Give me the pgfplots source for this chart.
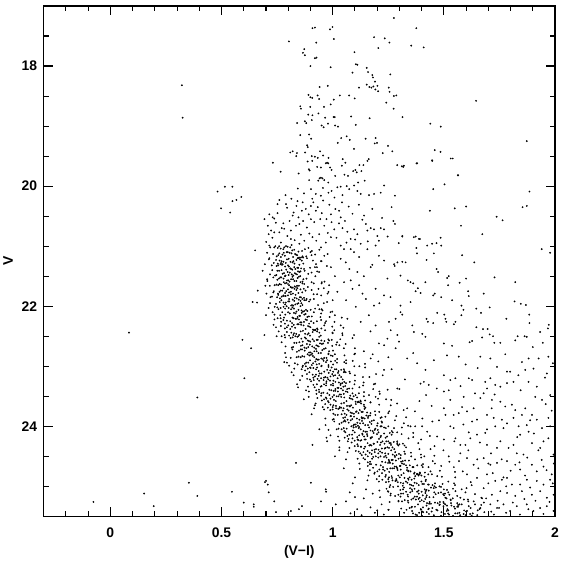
\documentclass[border=0pt]{standalone}
\usepackage{fontspec}
\setmainfont{Liberation Sans}
\usepackage{pgfplots}
\pgfplotsset{compat=1.18}
\pgfplotsset{pts/.style={only marks, mark=*, mark size=0.7pt, mark options={draw=none, fill=black!82}}}
\begin{document}
\begin{tikzpicture}
\begin{axis}[
  width=513bp, height=512bp, scale only axis,
  xmin=-0.3, xmax=2, ymin=17, ymax=25.5, y dir=reverse,
  xtick={0,0.5,1,1.5,2}, xticklabels={0,0.5,1,1.5,2},
  ytick={18,20,22,24}, yticklabels={18,20,22,24},
  minor xtick={-0.2,-0.1,0.1,0.2,0.3,0.4,0.6,0.7,0.8,0.9,1.1,1.2,1.3,1.4,1.6,1.7,1.8,1.9},
  minor ytick={17.5,18.5,19,19.5,20.5,21,21.5,22.5,23,23.5,24.5,25},
  tick align=inside, tick pos=both,
  major tick length=9bp, minor tick length=5bp,
  every tick/.style={black, line width=1.1pt},
  axis line style={line width=1.3pt},
  tick label style={font=\fontsize{14}{16}\selectfont\bfseries},
  xticklabel style={yshift=-8bp},
  yticklabel style={xshift=-3bp},
  label style={font=\fontsize{14}{16}\selectfont\bfseries},
  xlabel={(V−I)}, ylabel={V},
  xlabel style={yshift=-1bp},
  ylabel style={yshift=2bp},
]
% isolated points and upper scattered stars
\addplot[pts] table {
x y
0.322 18.32
0.325 18.86
0.482 20.09
0.515 20.01
0.549 20.01
0.549 20.25
0.567 20.23
0.589 20.18
0.498 20.37
0.539 20.44
0.084 22.44
0.594 22.56
0.391 23.52
0.353 24.94
0.152 25.12
0.391 25.16
0.547 25.09
-0.076 25.26
0.195 25.33
0.695 24.93
0.712 25.10
0.600 25.27
0.645 25.34
0.745 25.43
0.800 25.46
0.848 25.38
0.970 25.09
1.077 25.10
0.603 23.20
0.655 24.44
0.700 24.91
0.708 24.97
0.782 22.93
0.794 22.94
0.909 24.31
0.835 24.61
0.737 25.25
0.645 25.30
0.902 24.94
0.862 25.33
0.812 25.41
0.947 25.25
0.969 25.05
1.014 25.30
0.633 22.70
0.651 21.07
0.685 21.41
0.663 21.74
0.640 21.93
0.660 21.94
0.697 21.66
0.693 22.48
1.275 17.20
1.376 17.37
0.909 17.37
0.920 17.36
0.988 17.39
0.999 17.35
1.005 17.55
0.803 17.59
0.926 17.61
1.186 17.52
1.234 17.54
1.255 17.61
1.205 17.70
1.353 17.66
1.409 17.69
0.872 17.72
0.866 17.78
0.875 17.82
1.098 17.77
0.920 17.87
0.927 17.86
0.900 18.00
0.991 18.02
1.104 17.97
1.111 17.98
1.153 18.03
1.159 18.10
1.089 18.11
1.178 18.15
1.181 18.19
1.190 18.26
1.201 18.33
1.183 18.34
1.192 18.39
1.204 18.42
1.174 18.36
1.153 18.31
1.165 18.35
1.259 18.14
1.118 18.36
0.941 18.35
0.978 18.33
1.252 18.36
1.256 18.43
1.032 18.49
1.074 18.49
1.099 18.54
0.891 18.48
0.900 18.52
0.908 18.53
0.932 18.49
0.939 18.55
1.005 18.56
1.275 18.50
1.286 18.49
1.241 18.61
0.991 18.64
0.854 18.67
0.857 18.71
0.899 18.68
0.961 18.68
1.274 18.71
0.890 18.81
0.909 18.82
0.936 18.79
0.966 18.86
1.004 18.85
1.009 18.85
1.083 18.84
1.166 18.87
1.314 18.85
0.840 18.95
0.875 18.92
0.881 18.95
0.906 18.90
0.950 18.99
0.959 19.02
0.979 18.96
1.011 18.99
1.024 19.01
1.104 18.98
1.439 18.96
1.486 19.01
0.854 19.15
0.894 19.14
0.903 19.21
1.038 19.20
1.023 19.28
1.077 19.23
1.063 19.17
1.148 19.21
1.193 19.20
1.189 19.29
1.199 19.28
1.249 19.33
1.268 19.42
1.225 19.45
0.885 19.32
0.888 19.35
0.820 19.42
0.809 19.44
0.839 19.45
0.836 19.50
0.876 19.44
0.906 19.50
0.920 19.51
0.933 19.53
0.957 19.49
0.981 19.53
0.943 19.42
1.096 19.38
1.459 19.40
1.485 19.43
1.531 19.54
1.540 19.54
1.645 18.58
1.873 19.25
0.731 19.61
0.766 19.76
0.887 19.59
0.908 19.58
0.893 19.72
0.896 19.74
0.930 19.68
0.947 19.69
0.969 19.62
0.975 19.61
0.988 19.69
0.995 19.73
0.980 19.62
1.045 19.55
1.057 19.61
1.041 19.66
1.053 19.81
1.069 19.83
1.092 19.75
1.102 19.73
1.108 19.77
1.120 19.65
1.129 19.75
1.138 19.65
1.156 19.58
1.162 19.55
1.290 19.65
1.311 19.67
1.317 19.68
1.377 19.62
1.448 19.58
1.564 19.82
0.847 19.79
0.941 19.87
0.947 19.86
0.954 19.87
1.011 19.83
};
% V 19.9 - 21 spread region
\addplot[pts] table {
x y
0.894 19.90
0.935 19.91
0.962 19.90
0.980 19.94
1.021 20.02
1.036 20.01
1.063 20.00
1.096 19.99
1.114 19.94
1.144 19.91
1.163 20.15
1.186 20.13
1.216 20.11
1.231 19.99
1.280 20.16
0.902 20.05
0.924 20.13
0.947 20.16
0.981 20.11
0.995 20.08
1.044 20.15
1.074 20.05
1.111 20.08
1.126 20.13
0.715 20.47
0.730 20.52
0.737 20.54
0.708 20.66
0.723 20.74
0.737 20.77
0.760 20.77
0.782 20.71
0.812 20.74
0.835 20.66
0.850 20.63
0.820 20.49
0.824 20.44
0.752 20.30
0.790 20.30
0.842 20.25
0.865 20.27
0.879 20.38
0.902 20.33
0.924 20.41
0.902 20.55
0.917 20.60
0.944 20.55
0.962 20.66
0.939 20.80
0.909 20.85
0.872 20.91
0.850 20.96
0.767 20.94
0.715 20.99
0.737 21.02
0.812 20.88
0.992 20.47
0.995 20.60
1.007 20.72
1.029 20.41
1.036 20.52
1.044 20.70
1.066 20.76
1.081 20.88
1.036 20.99
1.051 21.05
1.096 20.72
1.111 20.80
1.141 20.49
1.149 20.63
1.156 20.74
1.171 20.70
1.186 20.72
1.201 20.83
1.208 20.91
1.216 20.70
1.231 20.72
1.193 20.99
1.126 20.96
1.081 21.05
0.992 20.85
0.969 20.94
0.947 21.02
0.782 21.02
1.273 20.58
1.280 20.63
1.313 20.83
1.365 20.85
1.388 20.88
1.425 20.99
0.760 20.23
0.795 20.36
0.806 20.58
0.778 20.62
0.752 20.45
0.846 20.52
0.867 20.58
0.884 20.69
0.857 20.81
0.829 20.90
0.796 20.83
0.771 20.70
0.744 20.61
0.729 20.86
0.892 20.47
0.913 20.27
0.933 20.35
0.951 20.45
0.972 20.55
0.985 20.31
0.957 20.24
1.012 20.38
1.028 20.62
1.055 20.58
1.072 20.34
1.089 20.46
1.118 20.31
1.133 20.56
1.101 20.89
1.062 20.94
1.017 20.86
0.978 20.78
0.926 20.91
0.895 20.79
0.861 20.41
0.837 20.33
0.814 20.21
0.908 20.21
0.871 20.12
0.843 20.04
0.956 20.03
1.008 20.19
1.042 20.27
1.178 20.38
1.158 20.92
1.247 20.84
1.222 20.53
1.265 20.35
1.297 20.95
0.788 20.15
0.815 20.98
0.759 21.00
0.712 20.80
0.693 20.55
0.701 20.93
};
% field stars to the right of the sequence
\addplot[pts] table {
x y
1.320 19.66
1.380 19.62
1.447 19.57
1.563 19.82
1.452 20.05
1.503 19.97
1.437 20.41
1.549 20.37
1.600 20.34
1.885 20.09
1.854 20.35
1.873 20.33
1.737 20.51
1.764 20.57
1.577 20.66
1.673 20.80
1.313 20.84
1.373 20.84
1.392 20.88
1.485 20.86
1.447 20.96
1.467 20.95
1.488 20.99
1.376 21.03
1.940 21.05
1.978 21.11
1.455 21.12
1.379 21.12
1.582 21.15
1.422 21.23
1.313 21.26
1.328 21.27
1.637 21.27
1.467 21.38
1.474 21.43
1.522 21.50
1.515 21.53
1.600 21.54
1.728 21.52
1.821 21.60
1.305 21.49
1.338 21.57
1.350 21.60
1.362 21.62
1.383 21.70
1.373 21.75
1.395 21.78
1.417 21.60
1.452 21.82
1.459 21.79
1.488 21.85
1.519 21.65
1.537 21.90
1.571 21.61
1.579 21.99
1.588 22.06
1.609 21.75
1.612 21.83
1.646 22.04
1.667 22.11
1.679 21.79
1.706 22.02
1.350 21.93
1.305 21.99
1.313 22.14
1.358 22.32
1.365 22.43
1.403 22.46
1.417 22.51
1.422 22.21
1.428 22.26
1.452 22.28
1.470 22.11
1.502 22.14
1.507 22.21
1.511 22.26
1.545 22.30
1.552 22.26
1.500 22.62
1.537 22.66
1.579 22.15
1.616 22.60
1.627 22.58
1.646 22.35
1.676 22.38
1.697 22.38
1.672 22.52
1.706 22.47
1.721 22.50
1.727 22.61
1.754 22.61
1.781 22.21
1.818 21.92
1.821 22.57
1.832 22.50
1.846 21.96
1.869 21.98
1.884 22.14
1.863 22.50
1.873 22.51
1.900 22.68
1.933 22.43
1.945 22.61
1.968 22.37
1.972 22.31
1.885 22.28
0.977 21.13
1.036 21.21
1.059 21.27
1.096 21.10
1.119 21.18
1.156 21.05
1.208 21.16
1.231 21.24
1.276 21.30
1.291 21.27
1.279 21.33
1.171 21.35
1.178 21.31
1.111 21.43
1.081 21.57
1.051 21.60
0.992 21.35
0.984 21.65
0.977 21.79
1.021 21.76
1.089 21.71
1.119 21.65
1.134 21.79
1.193 21.71
1.246 21.54
1.231 21.82
1.186 21.99
1.149 21.88
1.104 22.01
1.066 22.21
1.036 22.32
1.007 22.40
0.962 22.32
0.984 22.57
1.044 22.48
1.096 22.48
1.126 22.26
1.163 22.15
1.193 22.32
1.253 22.26
1.283 22.21
1.305 22.10
1.246 22.54
1.231 22.65
1.208 22.62
1.298 22.59
1.261 22.40
1.291 22.48
0.905 21.15
0.930 21.42
0.915 21.88
0.950 21.62
0.940 22.05
0.925 21.30
0.960 21.95
0.945 22.18
0.990 22.10
1.010 21.50
1.000 21.90
1.060 21.90
1.075 21.38
1.140 21.50
1.170 22.42
1.210 21.95
1.260 21.85
1.020 22.60
1.335 22.87
1.380 22.95
1.417 23.06
1.514 22.82
1.567 22.84
1.664 22.84
1.709 22.87
1.739 23.01
1.798 23.09
1.851 22.93
1.881 22.87
1.903 23.04
1.926 22.87
1.970 22.84
1.990 22.95
1.410 23.26
1.395 23.29
1.432 23.31
1.500 23.15
1.529 23.23
1.552 23.20
1.612 23.20
1.627 23.23
1.686 23.26
1.709 23.20
1.694 23.37
1.731 23.31
1.754 23.34
1.784 23.09
1.784 23.28
1.813 23.26
1.866 23.06
1.881 23.26
1.918 23.34
1.963 23.12
1.500 23.42
1.522 23.40
1.529 23.56
1.589 23.51
1.634 23.70
1.664 23.53
1.679 23.45
1.716 23.56
1.754 23.59
1.776 23.67
1.806 23.64
1.821 23.73
1.851 23.81
1.866 23.70
1.896 23.81
1.911 23.51
1.941 23.56
1.978 23.48
1.500 23.70
1.507 23.81
1.544 23.81
1.567 23.78
1.604 23.75
1.529 24.00
1.544 24.03
1.627 23.92
1.649 23.89
1.694 23.81
1.724 23.86
1.731 24.00
1.761 23.89
1.784 23.95
1.813 23.86
1.836 24.00
1.843 24.14
1.873 23.98
1.881 24.09
1.918 23.89
1.941 24.03
1.970 23.86
1.978 24.00
1.320 23.95
1.350 24.00
1.402 24.00
1.425 24.09
1.470 24.17
1.500 24.22
1.552 24.20
1.574 24.31
1.597 24.31
1.619 24.20
1.649 24.14
1.686 24.11
1.694 24.31
1.739 24.36
1.754 24.25
1.791 24.36
1.813 24.31
1.828 24.45
1.858 24.47
1.896 24.28
1.933 24.36
1.948 24.25
1.970 24.20
1.993 24.47
1.574 24.45
1.604 24.53
1.634 24.64
1.679 24.53
1.709 24.64
1.739 24.61
1.784 24.58
1.821 24.64
1.843 24.72
1.896 24.64
1.918 24.75
1.948 24.67
1.985 24.80
1.604 24.80
1.649 24.86
1.694 24.80
1.731 24.91
1.761 24.89
1.784 24.86
1.806 24.97
1.843 24.97
1.873 24.89
1.918 24.91
1.948 24.97
1.978 24.89
1.679 25.03
1.716 25.14
1.754 25.08
1.784 25.11
1.821 25.16
1.851 25.08
1.896 25.14
1.933 25.08
1.963 25.19
1.993 25.14
1.709 25.30
1.739 25.36
1.768 25.30
1.798 25.41
1.828 25.33
1.873 25.30
1.903 25.41
1.933 25.36
1.963 25.33
1.993 25.41
1.634 25.25
1.664 25.36
1.604 25.41
1.574 25.19
1.552 25.08
1.362 22.78
1.455 22.90
1.598 22.97
1.652 23.03
1.776 22.80
1.835 23.15
1.955 23.19
1.468 23.37
1.575 23.33
1.640 23.45
1.728 23.47
1.845 23.40
1.958 23.63
1.390 23.58
1.445 23.66
1.478 23.90
1.588 23.97
1.694 24.05
1.768 24.03
1.905 24.12
1.985 23.74
1.385 24.28
1.440 24.38
1.522 24.50
1.610 24.40
1.662 24.27
1.712 24.45
1.760 24.55
1.875 24.52
1.940 24.56
1.545 24.68
1.585 24.75
1.655 24.70
1.720 24.78
1.800 24.74
1.865 24.82
1.962 24.73
1.470 24.83
1.520 24.92
1.625 24.98
1.700 24.95
1.780 25.00
1.888 25.02
1.990 24.95
1.505 25.12
1.590 25.22
1.640 25.13
1.690 25.20
1.742 25.24
1.810 25.27
1.862 25.21
1.912 25.24
1.975 25.26
1.560 25.34
1.618 25.46
1.682 25.43
1.725 25.47
1.780 25.44
1.842 25.47
1.880 25.38
1.948 25.46
1.580 25.05
1.532 25.28
1.460 24.62
1.412 24.50
1.498 24.40
1.568 24.58
1.830 24.18
1.888 23.90
1.715 23.70
1.582 23.68
1.612 24.10
1.547 24.25
1.650 24.55
1.700 24.62
1.768 24.85
1.840 24.60
1.925 24.40
1.995 24.62
1.370 23.75
1.420 23.48
1.265 23.05
1.300 23.38
1.325 23.22
1.250 22.85
1.205 22.92
1.180 22.80
1.140 22.75
1.225 23.15
1.185 23.30
1.290 23.62
1.240 23.55
1.330 23.85
1.290 24.10
1.362 24.18
1.405 24.68
1.440 24.75
1.520 25.40
1.660 25.38
1.283 22.70
1.291 23.37
1.335 23.70
1.403 23.87
1.448 23.92
1.276 24.03
1.193 23.51
1.231 23.06
1.171 22.87
1.100 22.70
1.060 22.95
1.120 23.00
1.165 23.18
1.210 23.42
1.250 23.78
1.220 23.92
1.080 25.45
1.110 25.38
1.060 25.25
1.130 25.48
1.170 25.35
1.190 25.44
1.230 25.47
1.250 25.39
1.100 25.18
1.180 25.12
1.260 25.15
1.600 25.42
1.620 25.36
1.650 25.48
1.580 25.30
1.610 25.25
1.560 25.16
1.640 25.30
1.680 25.27
1.570 25.44
1.520 25.10
1.480 25.00
1.550 24.98
};
% wings of the main sequence band
\addplot[pts] table {
x y
0.715 21.20
0.705 21.55
0.720 21.85
0.730 22.10
0.745 22.35
0.770 22.60
0.790 22.85
0.815 23.10
0.840 23.30
0.870 23.55
0.905 23.80
0.940 24.05
0.975 24.25
1.010 24.50
1.050 24.70
1.090 24.95
1.140 25.20
1.200 25.40
0.728 21.40
0.735 21.75
0.752 22.20
0.770 22.50
0.830 22.95
0.880 23.40
0.920 23.65
0.990 24.15
1.030 24.40
1.100 24.85
1.150 25.05
1.220 25.30
0.900 21.10
0.920 21.35
0.905 21.60
0.930 21.80
0.950 22.05
0.970 22.25
1.000 22.45
1.030 22.65
1.060 22.90
1.100 23.15
1.120 23.35
1.170 23.60
1.220 23.85
1.270 24.10
1.330 24.35
1.370 24.55
1.430 24.80
1.500 25.05
1.570 25.30
0.950 21.25
0.960 21.70
1.010 22.15
0.980 22.55
1.010 22.80
1.050 23.05
1.140 23.50
1.190 23.75
1.250 24.00
1.290 24.25
1.400 24.65
1.460 24.95
1.540 25.20
1.630 25.45
};
% halo around the sequence
\addplot[pts] table {
x y
0.719 21.02
0.875 21.05
0.906 21.08
0.742 21.00
0.940 21.06
0.891 21.03
0.881 21.17
0.705 21.11
0.921 21.14
0.867 21.19
0.732 21.13
0.962 21.16
0.911 21.24
0.735 21.28
0.884 21.20
0.947 21.25
0.713 21.22
0.868 21.29
0.726 21.32
0.929 21.35
0.871 21.38
0.695 21.30
0.898 21.36
0.974 21.33
0.718 21.47
0.874 21.41
0.905 21.44
0.741 21.49
0.939 21.43
0.890 21.46
0.882 21.54
0.706 21.58
0.922 21.50
0.868 21.55
0.733 21.52
0.963 21.59
0.915 21.62
0.739 21.65
0.888 21.68
0.951 21.60
0.717 21.66
0.872 21.63
0.733 21.77
0.936 21.71
0.878 21.74
0.702 21.79
0.905 21.73
0.981 21.76
0.727 21.84
0.883 21.88
0.914 21.80
0.750 21.85
0.948 21.82
0.899 21.89
0.894 21.92
0.718 21.95
0.934 21.98
0.880 21.90
0.745 21.96
0.975 21.93
0.954 22.07
0.739 22.01
0.921 22.04
0.998 22.09
0.712 22.03
0.901 22.06
0.738 22.14
0.986 22.18
0.915 22.10
0.700 22.15
0.948 22.12
1.041 22.19
0.738 22.22
0.929 22.25
0.966 22.28
0.766 22.20
1.008 22.26
0.948 22.23
0.949 22.37
0.734 22.31
0.998 22.34
0.932 22.39
0.767 22.33
1.048 22.36
0.999 22.44
0.784 22.48
0.966 22.40
1.043 22.45
0.757 22.42
0.946 22.49
0.786 22.52
1.034 22.55
0.963 22.58
0.748 22.50
0.996 22.56
1.089 22.53
0.788 22.67
0.979 22.61
1.016 22.64
0.816 22.69
1.058 22.63
0.998 22.66
1.001 22.74
0.786 22.78
1.050 22.70
0.984 22.75
0.819 22.72
1.100 22.79
1.053 22.82
0.838 22.85
1.020 22.88
1.097 22.80
0.811 22.86
1.000 22.83
0.842 22.97
1.090 22.91
1.019 22.94
0.804 22.99
1.052 22.93
1.145 22.96
0.827 23.04
1.052 23.08
1.097 23.00
0.860 23.05
1.146 23.02
1.075 23.09
1.078 23.12
0.824 23.15
1.136 23.18
1.058 23.10
0.863 23.16
1.195 23.13
1.139 23.27
0.885 23.21
1.100 23.24
1.191 23.29
0.853 23.23
1.077 23.26
0.889 23.34
1.182 23.38
1.098 23.30
0.844 23.35
1.137 23.32
1.247 23.39
0.893 23.42
1.118 23.45
1.163 23.48
0.926 23.40
1.212 23.46
1.141 23.43
1.146 23.57
0.892 23.51
1.204 23.54
1.126 23.59
0.931 23.53
1.263 23.56
1.209 23.64
0.955 23.68
1.170 23.60
1.261 23.65
0.923 23.62
1.147 23.69
0.961 23.72
1.254 23.75
1.170 23.78
0.916 23.70
1.209 23.76
1.319 23.73
0.967 23.87
1.192 23.81
1.237 23.84
1.000 23.89
1.286 23.83
1.215 23.86
1.222 23.94
0.968 23.98
1.280 23.90
1.202 23.95
1.007 23.92
1.339 23.99
1.311 24.02
1.018 24.05
1.266 24.08
1.371 24.00
0.981 24.06
1.239 24.03
1.024 24.17
1.362 24.11
1.265 24.14
0.972 24.19
1.310 24.13
1.437 24.16
1.030 24.24
1.290 24.28
1.341 24.20
1.068 24.25
1.398 24.22
1.316 24.29
1.323 24.32
1.030 24.35
1.390 24.38
1.300 24.30
1.075 24.36
1.458 24.33
1.397 24.47
1.104 24.41
1.352 24.44
1.457 24.49
1.067 24.43
1.325 24.46
1.112 24.54
1.450 24.58
1.353 24.50
1.060 24.55
1.398 24.52
1.525 24.59
1.120 24.62
1.380 24.65
1.431 24.68
1.158 24.60
1.488 24.66
1.406 24.63
1.415 24.77
1.122 24.71
1.482 24.74
1.392 24.79
1.167 24.73
1.550 24.76
1.491 24.84
1.198 24.88
1.446 24.80
1.551 24.85
1.161 24.82
1.419 24.89
1.208 24.92
1.546 24.95
1.449 24.98
1.156 24.90
1.494 24.96
1.621 24.93
1.210 25.07
1.487 25.01
1.541 25.04
1.250 25.09
1.602 25.03
1.514 25.06
1.525 25.14
1.213 25.18
1.597 25.10
1.501 25.15
1.261 25.12
1.669 25.19
1.608 25.22
1.296 25.25
1.560 25.28
1.672 25.20
1.256 25.26
1.531 25.23
1.308 25.37
1.668 25.31
1.564 25.34
1.252 25.39
1.612 25.33
1.748 25.36
1.321 25.44
1.598 25.48
1.652 25.40
1.361 25.45
1.713 25.42
1.625 25.49
};
% dense sequence, V 21.0 - 23.0
\addplot[pts] table {
x y
0.753 21.03
0.818 21.07
0.797 21.01
0.846 21.09
0.778 21.05
0.809 21.02
0.862 21.08
0.766 21.04
0.827 21.06
0.790 21.00
0.822 21.18
0.760 21.12
0.840 21.15
0.793 21.10
0.857 21.19
0.774 21.14
0.806 21.11
0.748 21.17
0.831 21.13
0.785 21.16
0.849 21.19
0.798 21.10
0.835 21.14
0.767 21.18
0.815 21.12
0.755 21.15
0.864 21.17
0.780 21.11
0.770 21.25
0.828 21.29
0.745 21.23
0.810 21.26
0.842 21.20
0.789 21.28
0.853 21.22
0.761 21.24
0.819 21.27
0.802 21.21
0.778 21.26
0.837 21.23
0.753 21.29
0.823 21.25
0.847 21.20
0.794 21.22
0.768 21.28
0.861 21.24
0.850 21.31
0.786 21.34
0.832 21.38
0.755 21.32
0.809 21.37
0.775 21.30
0.841 21.36
0.818 21.39
0.748 21.33
0.827 21.35
0.799 21.32
0.858 21.37
0.765 21.30
0.803 21.34
0.791 21.39
0.845 21.36
0.772 21.31
0.813 21.38
0.797 21.43
0.839 21.47
0.759 21.41
0.823 21.49
0.781 21.45
0.855 21.42
0.747 21.48
0.807 21.44
0.834 21.46
0.770 21.40
0.850 21.43
0.788 21.49
0.816 21.47
0.751 21.41
0.830 21.45
0.802 21.48
0.844 21.42
0.775 21.46
0.828 21.58
0.769 21.52
0.813 21.55
0.785 21.50
0.864 21.59
0.758 21.54
0.819 21.51
0.795 21.57
0.842 21.53
0.751 21.56
0.806 21.59
0.854 21.50
0.779 21.54
0.837 21.58
0.764 21.52
0.822 21.55
0.800 21.57
0.848 21.51
0.755 21.65
0.820 21.69
0.799 21.63
0.848 21.66
0.780 21.60
0.811 21.68
0.864 21.62
0.768 21.64
0.829 21.67
0.792 21.61
0.840 21.66
0.761 21.63
0.816 21.69
0.804 21.65
0.855 21.60
0.786 21.62
0.835 21.68
0.747 21.64
0.828 21.71
0.766 21.74
0.846 21.78
0.799 21.72
0.863 21.77
0.780 21.70
0.812 21.76
0.754 21.79
0.837 21.73
0.791 21.75
0.855 21.72
0.804 21.77
0.841 21.70
0.773 21.74
0.821 21.79
0.761 21.76
0.870 21.71
0.786 21.78
0.780 21.83
0.838 21.87
0.755 21.81
0.820 21.89
0.852 21.85
0.799 21.82
0.863 21.88
0.771 21.84
0.829 21.86
0.812 21.80
0.788 21.83
0.847 21.89
0.763 21.87
0.833 21.81
0.857 21.85
0.804 21.88
0.778 21.82
0.871 21.86
0.864 21.98
0.800 21.92
0.846 21.95
0.769 21.90
0.823 21.99
0.789 21.94
0.855 21.91
0.832 21.97
0.762 21.93
0.841 21.96
0.813 21.99
0.872 21.90
0.779 21.94
0.817 21.98
0.805 21.92
0.859 21.95
0.786 21.97
0.827 21.91
0.813 22.05
0.866 22.09
0.766 22.03
0.846 22.06
0.793 22.00
0.886 22.08
0.751 22.02
0.826 22.04
0.860 22.07
0.779 22.01
0.880 22.06
0.802 22.03
0.837 22.09
0.756 22.05
0.855 22.00
0.819 22.02
0.872 22.08
0.786 22.04
0.861 22.11
0.787 22.14
0.842 22.18
0.807 22.12
0.906 22.17
0.773 22.10
0.850 22.16
0.819 22.19
0.878 22.13
0.764 22.15
0.833 22.12
0.893 22.17
0.799 22.10
0.872 22.14
0.781 22.19
0.853 22.16
0.826 22.11
0.886 22.18
0.778 22.23
0.859 22.27
0.833 22.21
0.894 22.29
0.809 22.25
0.848 22.22
0.914 22.28
0.794 22.24
0.871 22.26
0.824 22.20
0.884 22.23
0.785 22.29
0.854 22.27
0.839 22.21
0.903 22.25
0.817 22.28
0.878 22.22
0.768 22.26
0.878 22.38
0.800 22.32
0.900 22.35
0.841 22.30
0.921 22.39
0.817 22.34
0.858 22.31
0.785 22.37
0.889 22.33
0.831 22.36
0.911 22.39
0.847 22.30
0.894 22.34
0.809 22.38
0.869 22.32
0.794 22.35
0.930 22.37
0.825 22.31
0.826 22.45
0.898 22.49
0.794 22.43
0.876 22.46
0.916 22.40
0.849 22.48
0.930 22.42
0.814 22.44
0.887 22.47
0.866 22.41
0.836 22.46
0.910 22.43
0.804 22.49
0.892 22.45
0.922 22.40
0.856 22.42
0.823 22.48
0.940 22.44
0.939 22.51
0.859 22.54
0.916 22.58
0.820 22.52
0.888 22.57
0.845 22.50
0.928 22.56
0.899 22.59
0.811 22.53
0.910 22.55
0.875 22.52
0.949 22.57
0.832 22.50
0.880 22.54
0.865 22.59
0.933 22.56
0.841 22.51
0.893 22.58
0.884 22.63
0.937 22.67
0.837 22.61
0.917 22.69
0.864 22.65
0.957 22.62
0.822 22.68
0.897 22.64
0.931 22.66
0.850 22.60
0.951 22.63
0.873 22.69
0.908 22.67
0.827 22.61
0.926 22.65
0.890 22.68
0.943 22.62
0.857 22.66
0.936 22.78
0.862 22.72
0.917 22.75
0.882 22.70
0.981 22.79
0.848 22.74
0.925 22.71
0.894 22.77
0.953 22.73
0.839 22.76
0.908 22.79
0.968 22.70
0.874 22.74
0.947 22.78
0.856 22.72
0.928 22.75
0.901 22.77
0.961 22.71
0.856 22.85
0.937 22.89
0.911 22.83
0.972 22.86
0.887 22.80
0.926 22.88
0.992 22.82
0.872 22.84
0.949 22.87
0.902 22.81
0.962 22.86
0.863 22.83
0.932 22.89
0.917 22.85
0.981 22.80
0.895 22.82
0.956 22.88
0.846 22.84
0.959 22.91
0.881 22.94
0.981 22.98
0.922 22.92
1.002 22.97
0.898 22.90
0.939 22.96
0.866 22.99
0.970 22.93
0.912 22.95
0.992 22.92
0.928 22.97
0.975 22.90
0.890 22.94
0.950 22.99
0.875 22.96
1.011 22.91
0.906 22.98
};
% dense sequence, V 23.0 - 24.0
\addplot[pts] table {
x y
0.901 23.03
0.989 23.07
0.864 23.01
0.962 23.09
1.010 23.05
0.930 23.02
1.026 23.08
0.888 23.04
0.975 23.06
0.949 23.00
0.913 23.03
1.002 23.09
0.876 23.07
0.981 23.01
1.017 23.05
0.937 23.08
0.898 23.02
1.038 23.06
0.925 23.05
0.995 23.02
0.879 23.00
1.038 23.18
0.941 23.12
1.011 23.15
0.895 23.10
0.976 23.19
0.925 23.14
1.024 23.11
0.990 23.17
0.884 23.13
1.003 23.16
0.961 23.19
1.050 23.10
0.910 23.14
0.967 23.18
0.949 23.12
1.030 23.15
0.920 23.17
0.982 23.11
0.998 23.13
0.913 23.19
0.937 23.16
0.972 23.25
1.036 23.29
0.915 23.23
1.012 23.26
0.948 23.20
1.060 23.28
0.897 23.22
0.988 23.24
1.028 23.27
0.932 23.21
1.052 23.26
0.959 23.23
1.001 23.29
0.903 23.25
1.022 23.20
0.980 23.22
1.043 23.28
0.939 23.24
1.003 23.24
0.971 23.28
1.045 23.22
1.035 23.31
0.946 23.34
1.012 23.38
0.970 23.32
1.089 23.37
0.929 23.30
1.021 23.36
0.985 23.39
1.056 23.33
0.919 23.35
1.002 23.32
1.074 23.37
0.961 23.30
1.048 23.34
0.938 23.39
1.026 23.36
0.992 23.31
1.065 23.38
0.950 23.33
1.038 23.37
0.913 23.31
0.939 23.43
1.037 23.47
1.005 23.41
1.079 23.49
0.976 23.45
1.023 23.42
1.103 23.48
0.958 23.44
1.050 23.46
0.994 23.40
1.067 23.43
0.948 23.49
1.031 23.47
1.012 23.41
1.089 23.45
0.985 23.48
1.059 23.42
0.927 23.46
1.006 23.48
0.949 23.45
1.046 23.40
1.062 23.58
0.969 23.52
1.089 23.55
1.018 23.50
1.115 23.59
0.990 23.54
1.038 23.51
0.951 23.57
1.076 23.53
1.006 23.56
1.103 23.59
1.026 23.50
1.082 23.54
0.979 23.58
1.052 23.52
0.961 23.55
1.125 23.57
0.999 23.51
1.094 23.50
1.014 23.58
1.110 23.52
0.972 23.54
1.003 23.65
1.091 23.69
0.966 23.63
1.064 23.66
1.112 23.60
1.032 23.68
1.128 23.62
0.990 23.64
1.077 23.67
1.051 23.61
1.015 23.66
1.104 23.63
0.978 23.69
1.083 23.65
1.119 23.60
1.039 23.62
1.000 23.68
1.140 23.64
1.142 23.67
0.982 23.60
1.074 23.66
1.038 23.69
1.143 23.71
1.046 23.74
1.116 23.78
1.000 23.72
1.081 23.77
1.030 23.70
1.129 23.76
1.095 23.79
0.989 23.73
1.108 23.75
1.066 23.72
1.155 23.77
1.015 23.70
1.072 23.74
1.054 23.79
1.135 23.76
1.025 23.71
1.087 23.78
1.105 23.76
1.049 23.70
1.122 23.73
1.003 23.79
1.080 23.83
1.144 23.87
1.023 23.81
1.120 23.89
1.056 23.85
1.168 23.82
1.005 23.88
1.096 23.84
1.136 23.86
1.040 23.80
1.160 23.83
1.067 23.89
1.109 23.87
1.011 23.81
1.130 23.85
1.088 23.88
1.151 23.82
1.047 23.86
1.132 23.87
1.062 23.81
1.159 23.86
1.082 23.83
1.146 23.98
1.057 23.92
1.123 23.95
1.081 23.90
1.200 23.99
1.040 23.94
1.132 23.91
1.096 23.97
1.167 23.93
1.030 23.96
1.113 23.99
1.185 23.90
1.072 23.94
1.159 23.98
1.049 23.92
1.137 23.95
1.103 23.97
1.176 23.91
1.054 23.90
1.111 23.94
1.093 23.99
1.174 23.96
};
% dense sequence, V 24.0 - 25.5
\addplot[pts] table {
x y
1.040 24.05
1.154 24.09
1.117 24.03
1.203 24.06
1.084 24.00
1.138 24.08
1.231 24.02
1.063 24.04
1.170 24.07
1.105 24.01
1.189 24.06
1.050 24.03
1.147 24.09
1.126 24.05
1.215 24.00
1.094 24.02
1.180 24.08
1.026 24.04
1.119 24.01
1.192 24.04
1.052 24.08
1.164 24.02
1.091 24.07
1.220 24.00
1.184 24.11
1.075 24.14
1.215 24.18
1.133 24.12
1.245 24.17
1.099 24.10
1.156 24.16
1.054 24.19
1.199 24.13
1.119 24.15
1.231 24.12
1.141 24.17
1.206 24.10
1.087 24.14
1.171 24.19
1.066 24.16
1.257 24.11
1.110 24.18
1.177 24.18
1.134 24.14
1.217 24.16
1.057 24.10
1.154 24.13
1.238 24.19
1.115 24.23
1.217 24.27
1.071 24.21
1.185 24.29
1.241 24.25
1.148 24.22
1.261 24.28
1.099 24.24
1.201 24.26
1.171 24.20
1.129 24.23
1.233 24.29
1.085 24.27
1.208 24.21
1.250 24.25
1.157 24.28
1.112 24.22
1.275 24.26
1.255 24.28
1.143 24.22
1.224 24.25
1.089 24.20
1.184 24.29
1.124 24.24
1.277 24.38
1.165 24.32
1.246 24.35
1.111 24.30
1.206 24.39
1.146 24.34
1.262 24.31
1.221 24.37
1.099 24.33
1.237 24.36
1.188 24.39
1.291 24.30
1.128 24.34
1.195 24.38
1.174 24.32
1.269 24.35
1.141 24.37
1.213 24.31
1.295 24.32
1.127 24.34
1.234 24.37
1.169 24.31
1.253 24.36
1.114 24.33
1.205 24.45
1.278 24.49
1.138 24.43
1.250 24.46
1.177 24.40
1.306 24.48
1.117 24.42
1.222 24.44
1.270 24.47
1.157 24.41
1.298 24.46
1.189 24.43
1.238 24.49
1.124 24.45
1.263 24.40
1.213 24.42
1.287 24.48
1.166 24.44
1.281 24.43
1.148 24.47
1.236 24.45
1.131 24.48
1.322 24.42
1.175 24.46
1.280 24.51
1.177 24.54
1.254 24.58
1.205 24.52
1.343 24.57
1.158 24.50
1.265 24.56
1.222 24.59
1.305 24.53
1.145 24.55
1.242 24.52
1.326 24.57
1.194 24.50
1.296 24.54
1.168 24.59
1.270 24.56
1.231 24.51
1.315 24.58
1.182 24.51
1.284 24.57
1.138 24.53
1.252 24.56
1.308 24.59
1.215 24.50
1.172 24.63
1.286 24.67
1.249 24.61
1.335 24.69
1.216 24.65
1.270 24.62
1.363 24.68
1.195 24.64
1.302 24.66
1.237 24.60
1.321 24.63
1.182 24.69
1.279 24.67
1.258 24.61
1.347 24.65
1.226 24.68
1.312 24.62
1.158 24.66
1.330 24.65
1.289 24.69
1.167 24.63
1.305 24.66
1.256 24.60
1.359 24.68
1.319 24.78
1.210 24.72
1.350 24.75
1.268 24.70
1.380 24.79
1.234 24.74
1.291 24.71
1.189 24.77
1.334 24.73
1.254 24.76
1.366 24.79
1.276 24.70
1.341 24.74
1.222 24.78
1.306 24.72
1.201 24.75
1.392 24.77
1.245 24.71
1.187 24.79
1.292 24.73
1.340 24.75
1.227 24.72
1.368 24.77
1.259 24.70
1.253 24.85
1.355 24.89
1.209 24.83
1.323 24.86
1.379 24.80
1.286 24.88
1.399 24.82
1.237 24.84
1.339 24.87
1.309 24.81
1.267 24.86
1.371 24.83
1.223 24.89
1.346 24.85
1.388 24.80
1.295 24.82
1.250 24.88
1.413 24.84
1.265 24.83
1.367 24.87
1.239 24.81
1.341 24.89
1.302 24.85
1.386 24.82
1.418 24.91
1.306 24.94
1.387 24.98
1.252 24.92
1.347 24.97
1.287 24.90
1.403 24.96
1.362 24.99
1.240 24.93
1.378 24.95
1.329 24.92
1.432 24.97
1.269 24.90
1.336 24.94
1.315 24.99
1.410 24.96
1.282 24.91
1.354 24.98
1.368 24.94
1.259 24.98
1.399 24.92
1.317 24.95
1.429 24.97
1.293 24.93
1.348 25.03
1.432 25.07
1.272 25.01
1.400 25.09
1.316 25.05
1.464 25.02
1.248 25.08
1.368 25.04
1.422 25.06
1.294 25.00
1.454 25.03
1.330 25.09
1.386 25.07
1.256 25.01
1.414 25.05
1.358 25.08
1.442 25.02
1.304 25.06
1.380 25.09
1.356 25.05
1.458 25.00
1.320 25.02
1.418 25.08
1.242 25.04
1.435 25.18
1.317 25.12
1.405 25.15
1.349 25.10
1.507 25.19
1.295 25.14
1.417 25.11
1.369 25.17
1.463 25.13
1.281 25.16
1.391 25.19
1.487 25.10
1.337 25.14
1.453 25.18
1.307 25.12
1.423 25.15
1.379 25.17
1.475 25.11
1.497 25.13
1.305 25.17
1.421 25.18
1.387 25.12
1.339 25.17
1.457 25.10
1.312 25.25
1.442 25.29
1.400 25.23
1.498 25.26
1.362 25.20
1.424 25.28
1.530 25.22
1.338 25.24
1.460 25.27
1.386 25.21
1.482 25.26
1.324 25.23
1.434 25.29
1.410 25.25
1.512 25.20
1.374 25.22
1.472 25.28
1.296 25.24
1.340 25.27
1.416 25.21
1.392 25.25
1.500 25.28
1.354 25.22
1.436 25.26
1.480 25.31
1.356 25.34
1.516 25.38
1.422 25.32
1.550 25.37
1.384 25.30
1.448 25.36
1.332 25.39
1.498 25.33
1.406 25.35
1.534 25.32
1.432 25.37
1.506 25.30
1.370 25.34
1.466 25.39
1.346 25.36
1.564 25.31
1.396 25.38
1.430 25.38
1.514 25.32
1.354 25.35
1.482 25.30
1.398 25.39
1.546 25.34
1.407 25.43
1.523 25.47
1.357 25.41
1.487 25.49
1.551 25.45
1.445 25.42
1.573 25.48
1.389 25.44
1.505 25.46
1.471 25.40
1.423 25.43
1.541 25.49
1.373 25.47
1.513 25.41
1.561 25.45
1.455 25.48
1.403 25.42
1.589 25.46
1.519 25.45
1.401 25.49
1.489 25.43
1.433 25.46
1.591 25.40
1.379 25.48
};
\end{axis}
\path ([xshift=-42bp,yshift=-45bp]current axis.south west) rectangle ([xshift=15bp,yshift=6bp]current axis.north east);
\end{tikzpicture}
\end{document}
